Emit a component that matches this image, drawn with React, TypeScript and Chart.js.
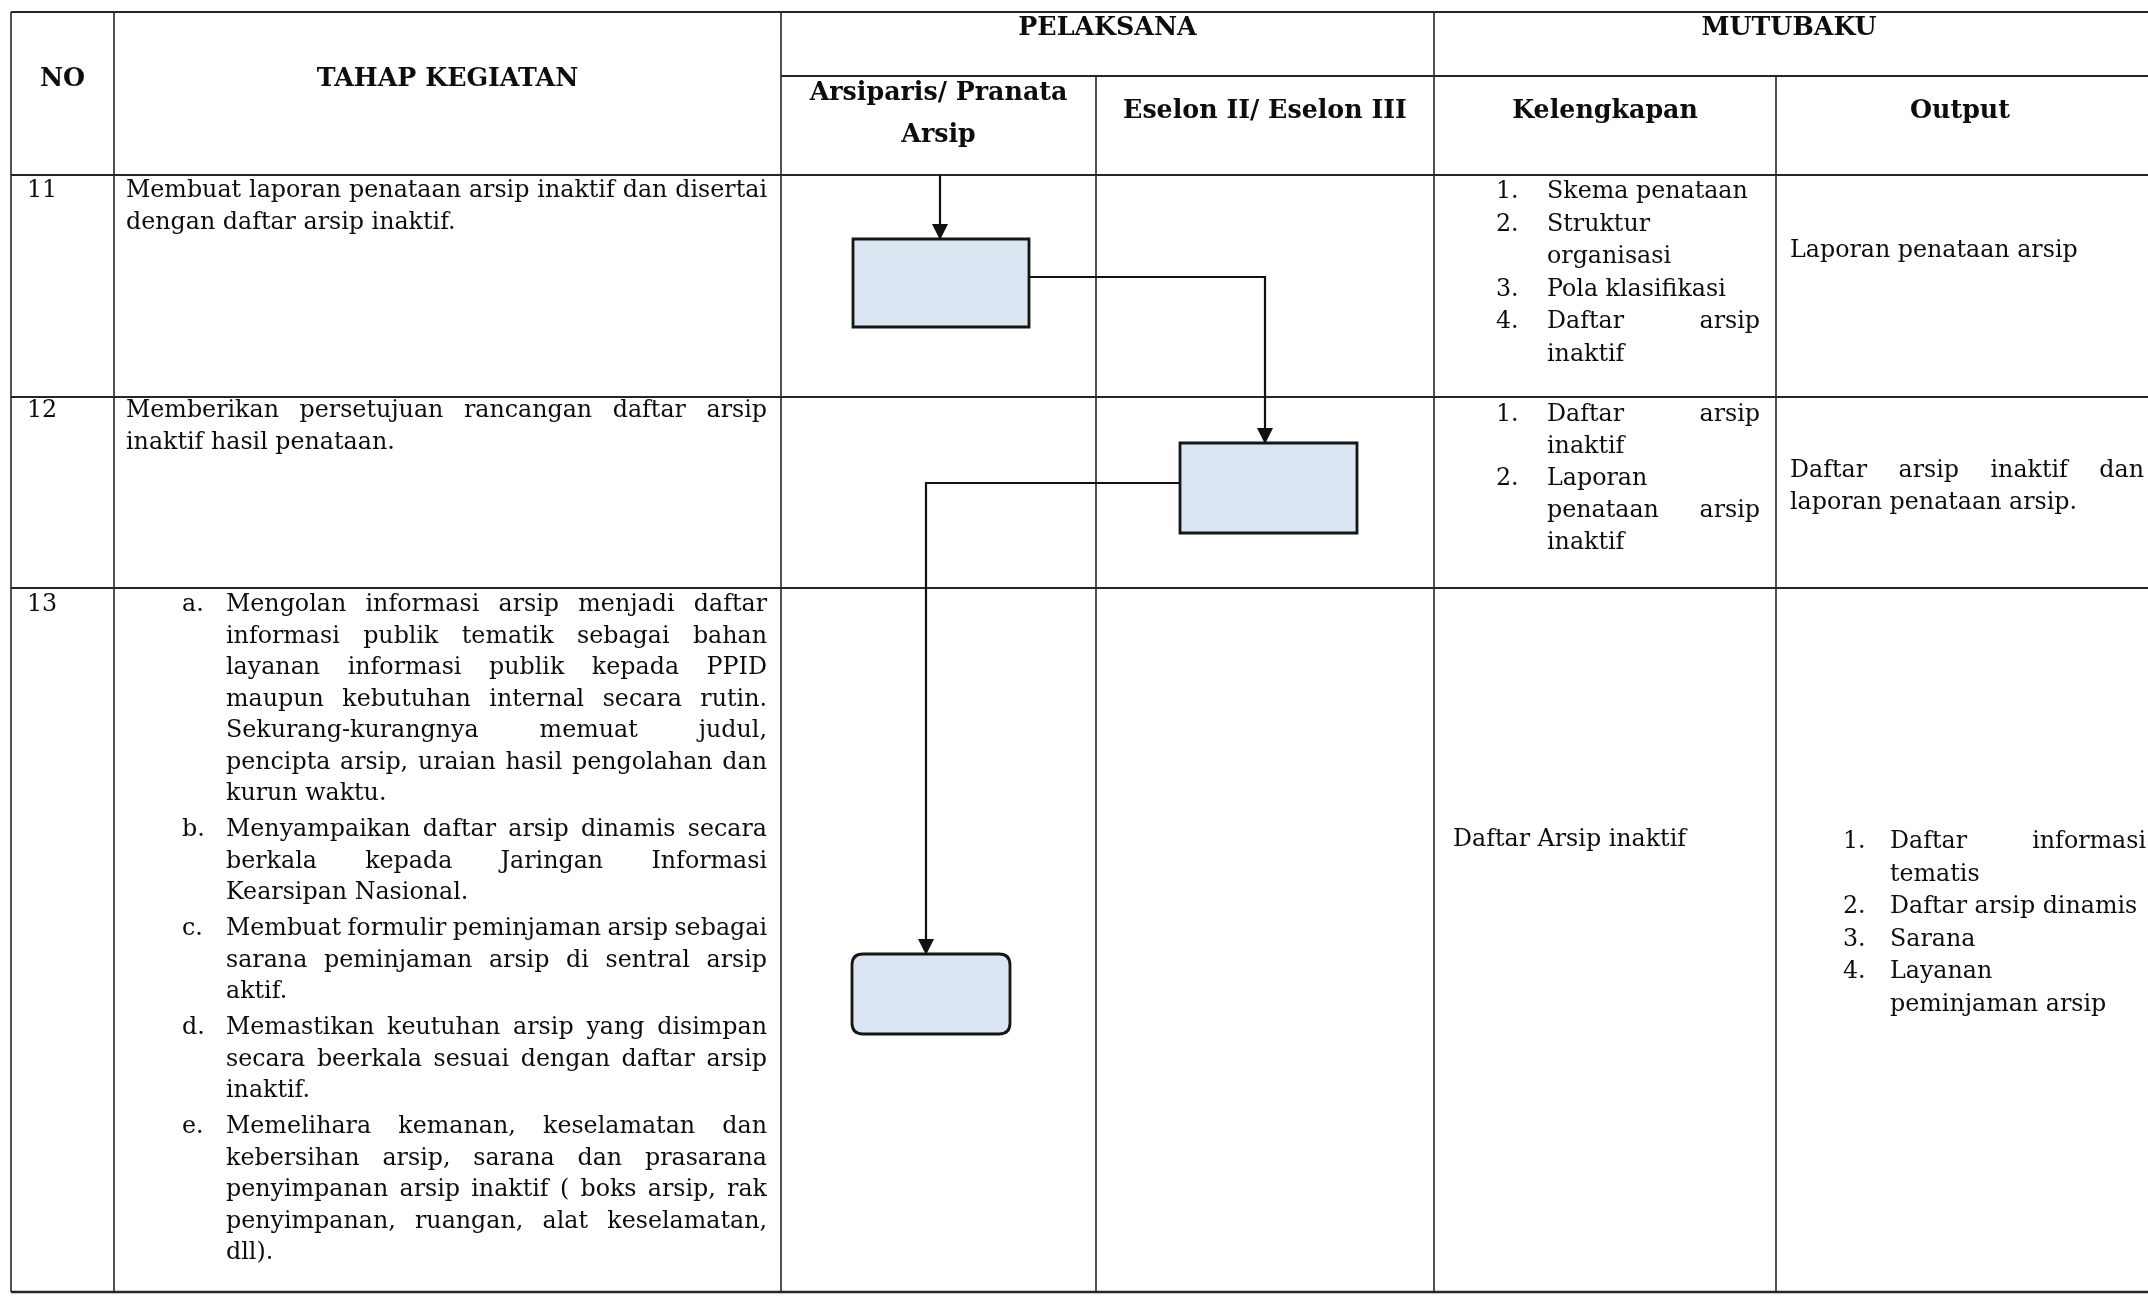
import React, { useEffect, useRef } from "react";
import { Chart, registerables } from "chart.js";

Chart.register(...registerables);

// ---------------- data ----------------
const groupHeaders = ["PELAKSANA", "MUTUBAKU"];
const columnHeaders: string[][] = [
  ["NO"],
  ["TAHAP KEGIATAN"],
  ["Arsiparis/ Pranata", "Arsip"],
  ["Eselon II/ Eselon III"],
  ["Kelengkapan"],
  ["Output"],
];
const stepNumbers = ["11", "12", "13"];

type Para = { label?: string; lines: string[] };

const activities: Para[][] = [
  [{ lines: ["Membuat laporan penataan arsip inaktif dan disertai", "dengan daftar arsip inaktif."] }],
  [{ lines: ["Memberikan persetujuan rancangan daftar arsip", "inaktif hasil penataan."] }],
  [
    {
      label: "a.",
      lines: [
        "Mengolan informasi arsip menjadi daftar",
        "informasi publik tematik sebagai bahan",
        "layanan informasi publik kepada PPID",
        "maupun kebutuhan internal secara rutin.",
        "Sekurang-kurangnya memuat judul,",
        "pencipta arsip, uraian hasil pengolahan dan",
        "kurun waktu.",
      ],
    },
    { label: "b.", lines: ["Menyampaikan daftar arsip dinamis secara", "berkala kepada Jaringan Informasi", "Kearsipan Nasional."] },
    { label: "c.", lines: ["Membuat formulir peminjaman arsip sebagai", "sarana peminjaman arsip di sentral arsip", "aktif."] },
    { label: "d.", lines: ["Memastikan keutuhan arsip yang disimpan", "secara beerkala sesuai dengan daftar arsip", "inaktif."] },
    {
      label: "e.",
      lines: [
        "Memelihara kemanan, keselamatan dan",
        "kebersihan arsip, sarana dan prasarana",
        "penyimpanan arsip inaktif ( boks arsip, rak",
        "penyimpanan, ruangan, alat keselamatan,",
        "dll).",
      ],
    },
  ],
];

const kelengkapan: Para[][] = [
  [
    { label: "1.", lines: ["Skema penataan"] },
    { label: "2.", lines: ["Struktur", "organisasi"] },
    { label: "3.", lines: ["Pola klasifikasi"] },
    { label: "4.", lines: ["Daftar arsip", "inaktif"] },
  ],
  [
    { label: "1.", lines: ["Daftar arsip", "inaktif"] },
    { label: "2.", lines: ["Laporan", "penataan arsip", "inaktif"] },
  ],
  [{ lines: ["Daftar Arsip inaktif"] }],
];

const outputs: Para[][] = [
  [{ lines: ["Laporan penataan arsip"] }],
  [{ lines: ["Daftar arsip inaktif dan", "laporan penataan arsip."] }],
  [
    { label: "1.", lines: ["Daftar informasi", "tematis"] },
    { label: "2.", lines: ["Daftar arsip dinamis"] },
    { label: "3.", lines: ["Sarana"] },
    { label: "4.", lines: ["Layanan", "peminjaman arsip"] },
  ],
];

// flow: which lane (0 = Arsiparis, 1 = Eselon) holds each step, and its shape
const flowLane = [0, 1, 0];
const flowShape = ["process", "process", "terminator"];

// ---------------- layout (positions / styles) ----------------
const W = 2148;
const H = 1296;
const FONT = '"DejaVu Serif", "Liberation Serif", serif';
const COL_X = [11, 114, 781, 1096, 1434, 1776, 2144];
const ROW_Y = [12, 76, 175, 397, 588, 1292];
const LINE_COLOR = "#262626";
const TEXT_COLOR = "#0d0d0d";
const BOX_FILL = "#dbe5f1";
const BOX_STROKE = "#151515";

const BODY_FIT = { width: 639 };
const BOLD_FIT = { width: 284 };

const headerLayout = {
  groupBase: 35,
  mainBase: 86,
  laneBases: [100, 142],
  subBase: 118,
};

const numberX = 27;
const rowBase = [197, 417, 611];

const actLayout = { textX: 126, labelX: 182, listX: 226, right: 767, lh: 31.5, gap: 4.5 };
const kelLayout = [
  { numX: 1496, textX: 1547, right: 1760, base: 198, lh: 32.6, gap: 0 },
  { numX: 1496, textX: 1547, right: 1760, base: 421, lh: 32, gap: 0 },
  { numX: 1453, textX: 1453, right: 1760, base: 846, lh: 32, gap: 0 },
];
const outLayout = [
  { numX: 1790, textX: 1790, right: 2144, base: 257, lh: 32, gap: 0 },
  { numX: 1790, textX: 1790, right: 2144, base: 477, lh: 32, gap: 0 },
  { numX: 1843, textX: 1890, right: 2146, base: 848, lh: 32.5, gap: 0 },
];

// box geometry for each step (px in the chart's value space)
const boxGeom = [
  { x0: 853, x1: 1029, y0: 239, y1: 327, radius: 0 },
  { x0: 1180, x1: 1357, y0: 443, y1: 533, radius: 0 },
  { x0: 852, x1: 1010, y0: 954, y1: 1034, radius: 11 },
];
const entryX = 940;
const connectors = [
  { fromY: 277, toX: 1265 },
  { fromY: 483, toX: 926 },
];

// ---------------- drawing helpers ----------------
function drawLine(ctx: CanvasRenderingContext2D, text: string, x: number, right: number, y: number, justify: boolean) {
  const avail = right - x;
  const natural = ctx.measureText(text).width;
  const words = text.split(" ").filter(Boolean);
  const space = ctx.measureText(" ").width;
  if (justify && words.length > 1) {
    const ww = words.map((w) => ctx.measureText(w).width);
    const sum = ww.reduce((a, b) => a + b, 0);
    const gap = (avail - sum) / (words.length - 1);
    if (gap >= space * 0.6) {
      let cx = x;
      words.forEach((w, i) => {
        ctx.fillText(w, cx, y);
        cx += ww[i] + gap;
      });
      return;
    }
    ctx.save();
    ctx.translate(x, y);
    ctx.scale(avail / natural, 1);
    ctx.fillText(text, 0, 0);
    ctx.restore();
    return;
  }
  if (natural > avail && avail > 0) {
    ctx.save();
    ctx.translate(x, y);
    ctx.scale(avail / natural, 1);
    ctx.fillText(text, 0, 0);
    ctx.restore();
  } else {
    ctx.fillText(text, x, y);
  }
}

function drawParas(
  ctx: CanvasRenderingContext2D,
  paras: Para[],
  numX: number,
  textX: number,
  right: number,
  base: number,
  lh: number,
  gap: number,
  X: (v: number) => number,
  Y: (v: number) => number
) {
  let y = base;
  paras.forEach((p, pi) => {
    if (pi > 0) y += gap;
    p.lines.forEach((ln, li) => {
      if (li === 0 && p.label) ctx.fillText(p.label, X(numX), Y(y));
      const last = li === p.lines.length - 1;
      drawLine(ctx, ln, X(textX), X(right), Y(y), !last);
      y += lh;
    });
  });
}

function arrowHead(ctx: CanvasRenderingContext2D, x: number, tipY: number) {
  ctx.beginPath();
  ctx.moveTo(x, tipY);
  ctx.lineTo(x - 8, tipY - 16);
  ctx.lineTo(x + 8, tipY - 16);
  ctx.closePath();
  ctx.fill();
}

const tablePlugin = {
  id: "sopTable",
  beforeDraw(chart: any) {
    const ctx = chart.ctx as CanvasRenderingContext2D;
    ctx.save();
    ctx.fillStyle = "#ffffff";
    ctx.fillRect(0, 0, chart.width, chart.height);
    ctx.restore();
  },
  afterDraw(chart: any) {
    const ctx = chart.ctx as CanvasRenderingContext2D;
    const xs = chart.scales.x;
    const ys = chart.scales.y;
    const X = (v: number) => xs.getPixelForValue(v);
    const Y = (v: number) => ys.getPixelForValue(v);

    ctx.save();
    // ---- fit fonts ----
    ctx.font = `100px ${FONT}`;
    const bodySize = (100 * BODY_FIT.width) / ctx.measureText(activities[0][0].lines[0]).width;
    ctx.font = `bold 100px ${FONT}`;
    const boldSize = (100 * BOLD_FIT.width) / ctx.measureText(columnHeaders[3][0]).width;

    // ---- table lines ----
    ctx.strokeStyle = LINE_COLOR;
    ctx.lineCap = "butt";
    const hLine = (x0: number, x1: number, y: number, w = 2) => {
      ctx.lineWidth = w;
      ctx.beginPath();
      ctx.moveTo(X(x0), Y(y));
      ctx.lineTo(X(x1), Y(y));
      ctx.stroke();
    };
    const vLine = (x: number, y0: number, y1: number, w = 1.6) => {
      ctx.lineWidth = w;
      ctx.beginPath();
      ctx.moveTo(X(x), Y(y0));
      ctx.lineTo(X(x), Y(y1));
      ctx.stroke();
    };
    const right = W;
    hLine(COL_X[0], right, ROW_Y[0]);
    hLine(COL_X[2], right, ROW_Y[1]);
    for (let r = 2; r < ROW_Y.length; r++) hLine(COL_X[0], right, ROW_Y[r], r === ROW_Y.length - 1 ? 2.4 : 2.2);
    const top = ROW_Y[0];
    const bottom = ROW_Y[ROW_Y.length - 1];
    vLine(COL_X[0], top, bottom);
    vLine(COL_X[1], top, bottom);
    vLine(COL_X[2], top, bottom);
    vLine(COL_X[3], ROW_Y[1], bottom);
    vLine(COL_X[4], top, bottom);
    vLine(COL_X[5], ROW_Y[1], bottom);

    // ---- flow chart ----
    ctx.strokeStyle = "#111";
    ctx.fillStyle = "#111";
    ctx.lineWidth = 2.2;
    ctx.beginPath();
    ctx.moveTo(X(entryX), Y(ROW_Y[2]));
    ctx.lineTo(X(entryX), Y(boxGeom[0].y0) - 12);
    ctx.stroke();
    connectors.forEach((c, i) => {
      const from = boxGeom[i];
      const to = boxGeom[i + 1];
      const goRight = flowLane[i + 1] > flowLane[i];
      const sx = goRight ? from.x1 : from.x0;
      ctx.beginPath();
      ctx.moveTo(X(sx), Y(c.fromY));
      ctx.lineTo(X(c.toX), Y(c.fromY));
      ctx.lineTo(X(c.toX), Y(to.y0) - 12);
      ctx.stroke();
    });
    boxGeom.forEach((b, i) => {
      const x0 = X(b.x0), x1 = X(b.x1), y0 = Y(b.y0), y1 = Y(b.y1);
      ctx.beginPath();
      if (flowShape[i] === "terminator") {
        const r = b.radius;
        ctx.moveTo(x0 + r, y0);
        ctx.lineTo(x1 - r, y0);
        ctx.quadraticCurveTo(x1, y0, x1, y0 + r);
        ctx.lineTo(x1, y1 - r);
        ctx.quadraticCurveTo(x1, y1, x1 - r, y1);
        ctx.lineTo(x0 + r, y1);
        ctx.quadraticCurveTo(x0, y1, x0, y1 - r);
        ctx.lineTo(x0, y0 + r);
        ctx.quadraticCurveTo(x0, y0, x0 + r, y0);
        ctx.closePath();
      } else {
        ctx.rect(x0, y0, x1 - x0, y1 - y0);
      }
      ctx.fillStyle = BOX_FILL;
      ctx.fill();
      ctx.lineWidth = 2.8;
      ctx.strokeStyle = BOX_STROKE;
      ctx.stroke();
    });
    ctx.fillStyle = "#111";
    arrowHead(ctx, X(entryX), Y(boxGeom[0].y0) + 1);
    connectors.forEach((c, i) => arrowHead(ctx, X(c.toX), Y(boxGeom[i + 1].y0) + 1));

    // ---- headers ----
    ctx.fillStyle = TEXT_COLOR;
    ctx.textBaseline = "alphabetic";
    ctx.font = `bold ${boldSize}px ${FONT}`;
    ctx.textAlign = "center";
    ctx.fillText(groupHeaders[0], X((COL_X[2] + COL_X[4]) / 2), Y(headerLayout.groupBase));
    ctx.fillText(groupHeaders[1], X((COL_X[4] + COL_X[6]) / 2), Y(headerLayout.groupBase));
    ctx.fillText(columnHeaders[0][0], X((COL_X[0] + COL_X[1]) / 2), Y(headerLayout.mainBase));
    ctx.fillText(columnHeaders[1][0], X((COL_X[1] + COL_X[2]) / 2), Y(headerLayout.mainBase));
    columnHeaders[2].forEach((t, i) => ctx.fillText(t, X((COL_X[2] + COL_X[3]) / 2), Y(headerLayout.laneBases[i])));
    for (let c = 3; c < 6; c++) ctx.fillText(columnHeaders[c][0], X((COL_X[c] + COL_X[c + 1]) / 2), Y(headerLayout.subBase));

    // ---- body ----
    ctx.textAlign = "left";
    ctx.font = `${bodySize}px ${FONT}`;
    stepNumbers.forEach((n, r) => ctx.fillText(n, X(numberX), Y(rowBase[r])));
    activities.forEach((paras, r) => {
      const labelled = paras.some((p) => p.label);
      drawParas(
        ctx,
        paras,
        actLayout.labelX,
        labelled ? actLayout.listX : actLayout.textX,
        actLayout.right,
        rowBase[r],
        actLayout.lh,
        actLayout.gap,
        X,
        Y
      );
    });
    kelengkapan.forEach((paras, r) => {
      const l = kelLayout[r];
      drawParas(ctx, paras, l.numX, l.textX, l.right, l.base, l.lh, l.gap, X, Y);
    });
    outputs.forEach((paras, r) => {
      const l = outLayout[r];
      drawParas(ctx, paras, l.numX, l.textX, l.right, l.base, l.lh, l.gap, X, Y);
    });
    ctx.restore();
  },
};

export default function App() {
  const canvasRef = useRef<HTMLCanvasElement | null>(null);
  useEffect(() => {
    const canvas = canvasRef.current;
    if (!canvas) return;
    const chart = new Chart(canvas, {
      type: "scatter",
      data: { datasets: [{ data: [], pointRadius: 0 }] },
      options: {
        animation: false,
        responsive: false,
        maintainAspectRatio: false,
        devicePixelRatio: 1,
        events: [],
        layout: { padding: 0 },
        plugins: { legend: { display: false }, tooltip: { enabled: false }, title: { display: false } },
        scales: {
          x: { type: "linear", min: 0, max: W, display: false },
          y: { type: "linear", min: 0, max: H, reverse: true, display: false },
        },
      },
      plugins: [tablePlugin],
    } as any);
    return () => chart.destroy();
  }, []);
  return (
    <div style={{ position: "absolute", left: 0, top: 0, width: W, height: H, background: "#fff" }}>
      <canvas ref={canvasRef} width={W} height={H} style={{ display: "block", width: W, height: H }} />
    </div>
  );
}
